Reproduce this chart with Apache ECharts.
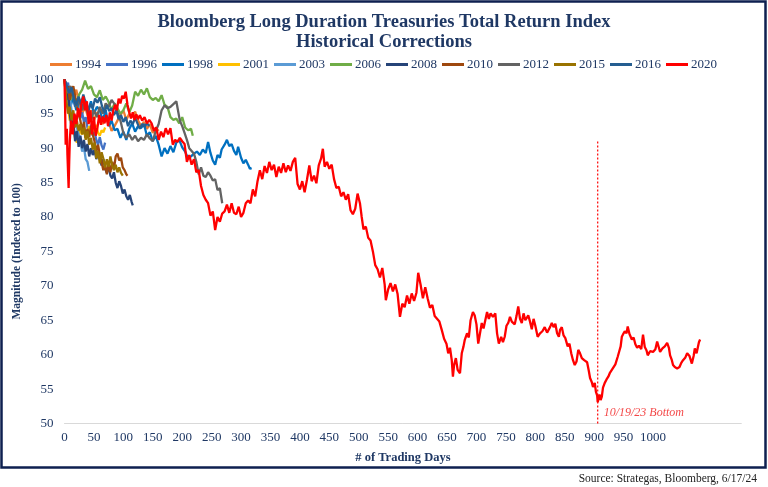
<!DOCTYPE html>
<html><head><meta charset="utf-8">
<script src="https://cdn.jsdelivr.net/npm/echarts@6/dist/echarts.min.js"></script>
<style>html,body{margin:0;padding:0;background:#fff}#c{width:768px;height:487px}</style>
</head><body><div id="c"></div>
<script>
const seriesNames = ['1994','1996','1998','2001','2003','2006','2008','2010','2012','2015','2016','2020'];
const seriesColors = ['#ED7D31','#4472C4','#0070C0','#FFC000','#5B9BD5','#70AD47','#264478','#9E480E','#636363','#997300','#255E91','#FF0000'];
const xTickMaxLabel = 1000;

const s1994 = [[0,100],[5,98.5],[10,99],[15,97],[20,98.5],[25,96.5],[30,95],[35,96],[40,94.5],[45,95.5],[50,94],[55,95.2],[60,94.5],[65,93.5],[70,94.8],[75,93.8],[80,92.5],[85,93.2],[90,94],[95,94.8],[100,95.5],[105,94.1],[110,95],[115,94.5],[120,95.3],[125,94],[130,93.2],[135,93.8],[140,92.8],[145,93.5],[150,92.2],[155,93],[160,92.5]];
const s1996 = [[0,100],[3,99],[6,99.5],[9,97.5],[12,98.8],[15,97],[18,96],[21,97.2],[24,95.5],[27,94.3],[30,95.2],[33,93.8],[36,94.5],[39,93],[42,92.4],[45,93.4],[48,91.8],[51,92.5],[54,91.2],[57,90.5],[60,91.6],[63,90.4],[66,89.8],[69,90.8]];
const s1998 = [[0,100],[5,98],[10,96],[15,97.5],[20,95.5],[25,97],[30,96],[35,97],[40,95.5],[45,96.8],[50,95],[55,96],[60,95.5],[65,94],[70,95.5],[75,93.2],[80,94],[85,92.6],[90,92.8],[95,91.5],[100,92.4],[105,91.2],[110,92.8],[115,93.6],[120,92.4],[125,93.2],[130,92.9],[135,93.5],[140,91.8],[145,92.3],[150,91],[155,91.8],[160,90.5],[165,88.8],[170,90],[175,89.2],[180,90.3],[185,89.4],[190,90.8],[195,91.2],[200,90.1],[205,89.5],[210,88.5],[215,88.8],[220,89.2],[225,89.5],[230,89],[235,89.8],[240,89.3],[244,90.9],[248,89.3],[252,88.2],[256,87.6],[260,89],[264,88.6],[267,89.8],[272,90.5],[276,91.2],[280,90.3],[284,90.6],[288,89.6],[292,89],[295,90.2],[300,88.6],[304,87.8],[308,88.3],[312,87.6],[315,87],[318,87.1]];
const s2001 = [[0,100],[3,97],[6,96],[9,94],[12,95.5],[15,93],[18,91.5],[21,90.8],[24,91.5],[27,93],[30,92],[33,92.8],[36,91.5],[39,92.5],[42,93.2],[45,92],[48,93],[51,92.4],[54,93.4],[57,92.2],[60,91.8],[63,92.6],[66,92.3],[69,93]];
const s2003 = [[0,100],[3,98],[6,96.5],[9,97.5],[12,95.5],[15,94],[18,94.8],[21,93],[24,92],[27,91],[30,89.5],[33,90.2],[36,88.4],[39,88],[42,86.7]];
const s2006 = [[0,100],[5,98.5],[10,97],[15,98],[20,96.5],[25,97.8],[30,98.5],[35,99.8],[40,98.6],[45,99],[50,97.8],[55,97.4],[60,98.4],[65,97],[70,97.5],[75,96.7],[80,95.5],[85,96.5],[90,95.8],[95,95],[100,95.5],[105,96.5],[110,95.2],[115,96.2],[120,98.2],[125,97.6],[130,98.5],[135,97.8],[140,98.7],[145,97.4],[150,97],[155,97.3],[160,96.8],[165,97.7],[170,96.3],[175,96],[180,94.5],[185,94.1],[190,94.3],[195,93.6],[200,94.5],[205,93],[210,92.6],[215,92.8],[218,91.8]];
const s2008 = [[0,100],[3,97],[6,98.5],[9,95],[12,93],[15,94],[18,91],[21,92.5],[24,90.2],[27,91.8],[30,90],[33,91.2],[36,89.5],[39,90.6],[42,88.8],[45,90],[48,89],[51,89.8],[54,88.4],[57,89.5],[60,88.5],[63,87.5],[66,88.4],[69,87],[72,86.4],[75,87.5],[78,86],[81,85.6],[84,86.5],[87,85],[90,84.2],[93,85.2],[96,84.5],[99,83.4],[102,84],[105,83],[108,82.5],[111,83.2],[114,82.2],[116,81.7]];
const s2010 = [[0,100],[3,98],[6,99],[9,97],[12,98.2],[15,99],[18,97.5],[21,96],[24,95],[27,94],[30,92.5],[33,93.8],[36,91.5],[39,92.8],[42,91.6],[45,93.2],[48,92],[51,91],[54,89.5],[57,90.5],[60,89],[63,88],[66,86.8],[69,87.5],[72,86.2],[75,87.8],[78,86.5],[81,88],[84,87],[87,88.8],[90,89.2],[93,88.2],[96,88.6],[99,87.2],[102,86.8],[105,86.2],[107,86]];
const s2012 = [[0,100],[5,98],[10,99],[15,97.5],[20,96],[25,97],[30,95.5],[35,96.5],[40,95],[45,94],[50,95.5],[55,94.5],[60,96],[65,95],[70,96.5],[75,96],[80,97],[85,96.4],[90,95.2],[95,94],[100,92.2],[105,91.5],[110,92],[115,91.2],[120,91.8],[125,91],[130,91.5],[135,91.2],[140,92],[145,91.4],[150,91],[155,92.5],[160,93.5],[165,95.5],[170,96.2],[175,95.8],[180,96],[185,96.4],[190,96.8],[193,97],[196,94],[200,93.2],[204,92.2],[208,91.2],[212,90],[216,89.6],[220,89.2],[224,88],[228,86.2],[232,87.2],[236,86],[240,85.8],[244,86.5],[248,86],[252,85.3],[256,85.5],[260,83.9],[264,84.2],[268,82]];
const s2015 = [[0,100],[3,97],[6,95],[9,96],[12,94],[15,95.5],[18,93],[21,94],[24,92.5],[27,93.5],[30,92],[33,93],[36,91.2],[39,92.5],[42,90.5],[45,91.5],[48,89.8],[51,90.8],[54,88.5],[57,89.6],[60,87.8],[63,89.4],[66,88.5],[69,87.2],[72,88.4],[75,87.3],[78,88.8],[81,87.5],[84,86.8],[87,87.6],[90,86.5],[93,87.2],[96,86.4],[99,86]];
const s2016 = [[0,100],[4,99],[8,98],[12,98.8],[16,97.2],[20,96.2],[24,97.5],[28,96.4],[32,97.8],[36,96.5],[40,95.2],[44,96.4],[48,95.8],[52,97.2],[56,96.6],[60,97.4],[64,96],[68,95.2],[72,96.2],[76,95.4],[80,95.8],[84,94.8],[88,95.5],[92,94.2],[96,94.8],[100,93.8],[104,94.5],[108,93.2],[112,94],[116,93.5],[120,94.4],[124,93.6],[128,92.8],[132,93.5],[136,93.1],[140,93.6],[144,93.2]];
const s2020 = [[0,100],[1,96],[2,90.5],[4,92.8],[5,89],[7,84.2],[8,88],[9,91],[11,94],[14,92],[17,95],[20,93.5],[23,95.8],[26,94.5],[29,96.5],[32,97.5],[35,95.5],[38,96.8],[41,93.5],[44,95.5],[47,92],[50,94.5],[53,91.8],[56,93],[59,94.8],[62,93.4],[65,94.6],[68,93.6],[71,94.8],[74,93.2],[77,95.2],[80,94],[83,95.5],[86,96.3],[89,95.5],[92,97.2],[95,96.5],[98,97.6],[101,97.2],[104,98.2],[107,96.3],[110,95.2],[113,94.3],[116,95.2],[119,94.1],[122,94.9],[125,94.2],[128,94.8],[132,94],[136,94.5],[140,93.6],[144,94.1],[148,93.6],[152,92.5],[156,93],[160,91.2],[164,92.4],[168,91.6],[172,92.9],[176,92],[180,92.9],[184,90.5],[188,91.2],[192,90.9],[196,91.5],[200,91],[204,90.6],[208,88],[212,89],[216,87.6],[220,88.4],[224,86.5],[228,86.8],[232,84.5],[236,83.2],[240,82.5],[244,82],[248,80.2],[252,80.8],[256,78.1],[260,80],[264,79.3],[268,80.5],[272,80.8],[276,81.8],[280,80.6],[284,82],[288,80.6],[292,80.4],[296,81.5],[300,80],[304,80.6],[308,82],[312,82.4],[316,82],[320,84],[324,83],[328,85.2],[332,86.8],[336,85.5],[340,87.4],[344,86.4],[348,88],[352,86.8],[356,87.6],[360,85.8],[364,87.3],[368,86.4],[372,87.8],[376,86.5],[380,87.5],[384,86.7],[388,88],[392,88.6],[396,84.8],[400,84],[404,85.2],[408,83.6],[412,85.4],[416,87.5],[420,85.2],[424,86],[428,84.9],[432,87.5],[436,88.5],[439,89.9],[442,87.3],[446,88],[450,87],[454,87.6],[458,85.5],[462,84.2],[466,84.4],[470,83],[474,83.6],[478,82.5],[482,83.3],[486,81],[490,80.4],[494,81.2],[498,83.4],[502,82],[505,80],[508,78.2],[512,78.6],[516,77],[520,76.6],[524,75],[528,73],[532,72.4],[536,71.2],[540,72.6],[544,70.2],[546,67.9],[550,69.5],[554,70.4],[558,69.2],[562,70.2],[566,68.8],[570,65.5],[574,67.4],[578,66.9],[582,68.6],[586,67.4],[590,68.9],[594,67.8],[598,69],[601,71.9],[605,70.2],[609,68.2],[613,69.8],[617,68.2],[621,66.8],[625,67.2],[629,65.6],[633,65.2],[637,64.8],[641,63.6],[645,62.3],[649,61.6],[652,60.2],[655,61],[658,59.2],[660,56.8],[662,58.5],[665,59.5],[668,57.8],[672,57.3],[675,60.2],[678,61.2],[680,62.1],[684,63.1],[687,62.5],[690,65],[694,66.2],[697,65.7],[700,64.4],[703,61.6],[706,63.1],[709,64.6],[712,63.8],[715,65],[718,66.2],[721,65.2],[724,66],[728,65.5],[732,66],[735,63.1],[738,61.6],[742,62.6],[745,61.8],[748,62.6],[751,64.2],[754,64.6],[757,65.5],[760,64.8],[765,64.4],[768,65.6],[771,67],[774,65.2],[777,64.6],[780,66],[783,65],[788,65.7],[791,64.8],[794,63.7],[797,65.2],[800,64.2],[804,62.6],[808,63.1],[812,63.4],[816,64],[820,63.2],[825,64],[828,64.6],[831,64],[834,64.5],[837,63.1],[840,62.6],[842,63.6],[845,64],[848,62.8],[851,62.4],[855,61.2],[858,61.6],[861,60.2],[864,59.2],[867,58.5],[870,59],[873,60.7],[876,60.2],[879,59.5],[883,59.2],[888,58.9],[891,57.6],[893,56.6],[896,56],[898,55.3],[901,55.9],[903,54.6],[905,54.1],[906,53.1],[909,54.2],[911,53.4],[913,53.9],[915,55.2],[918,55.9],[921,56.4],[924,56.8],[927,57.4],[930,57.8],[933,58.2],[936,58.6],[940,59.7],[943,60.6],[945,61.2],[947,62.6],[950,63.1],[952,63.4],[955,63.1],[957,64.1],[960,63],[964,62.2],[967,62.5],[970,61.5],[973,61],[976,61.3],[980,60.8],[983,62.9],[986,61.1],[989,60.6],[991,59.9],[995,60.5],[1000,60.4],[1004,60.8],[1007,61.9],[1010,61],[1012,60.4],[1016,60.9],[1020,61.2],[1024,61.7],[1027,61],[1029,59.9],[1032,59.2],[1034,58.5],[1037,58.2],[1041,58],[1045,58.2],[1048,58.8],[1051,59.2],[1055,59.6],[1058,60.2],[1062,59.8],[1066,58.7],[1069,59.8],[1071,60.9],[1074,60.2],[1076,61],[1078,61.8],[1080,62.2]];

const bottomDay = 906;
const bottomLine = [[bottomDay,50],[bottomDay,91]];
const bottomLabelPoint = [[bottomDay,51.5]];
const bottomLabelText = '10/19/23 Bottom';

const allData = [s1994,s1996,s1998,s2001,s2003,s2006,s2008,s2010,s2012,s2015,s2016,s2020];
const navy = '#1F3864';
const serif = "'Liberation Serif', 'DejaVu Serif', serif";

const chart = echarts.init(document.getElementById('c'), null, {renderer:'canvas'});
const series = seriesNames.map((n,i)=>({
  name:n, type:'line', data:allData[i], showSymbol:false, symbol:'none',
  lineStyle:{width:2.3, color:seriesColors[i]}, itemStyle:{color:seriesColors[i]},
  animation:false, z:2
}));
series.push({type:'line', data:bottomLine, showSymbol:false, symbol:'none', silent:true,
  lineStyle:{width:1.2, color:'#FF0000', type:[2,2]}, animation:false, z:1});
series.push({type:'scatter', data:bottomLabelPoint, symbolSize:0, silent:true, animation:false,
  label:{show:true, position:'right', distance:6, formatter:bottomLabelText,
    fontFamily:serif, fontStyle:'italic', fontSize:12, color:'#F01818'}});

chart.setOption({
  backgroundColor:'#fff',
  animation:false,
  title:{text:'Bloomberg Long Duration Treasuries Total Return Index\nHistorical Corrections',
    left:'center', top:7,
    textStyle:{fontFamily:serif, fontWeight:'bold', fontSize:18.5, lineHeight:20, color:navy}},
  legend:{data:seriesNames, left:45, top:53, icon:'rect', itemWidth:22, itemHeight:3, itemGap:5,
    textStyle:{fontFamily:serif, fontSize:13, color:navy, padding:[0,0,0,-2]}},
  grid:{left:64.5, right:26.7, top:79.3, bottom:63.5, containLabel:false},
  xAxis:{type:'value', min:0, max:1150, interval:50,
    name:'# of Trading Days', nameLocation:'middle', nameGap:28,
    nameTextStyle:{fontFamily:serif, fontWeight:'bold', fontSize:12.5, color:navy},
    axisLine:{show:true, lineStyle:{color:'#D9D9D9', width:1}}, axisTick:{show:false},
    splitLine:{show:false},
    axisLabel:{fontFamily:serif, fontSize:13, color:navy, margin:8,
      formatter:v=> v<=xTickMaxLabel ? String(v) : ''}},
  yAxis:{type:'value', min:50, max:100, interval:5,
    name:'Magnitude (Indexed to 100)', nameLocation:'middle', nameGap:40,
    nameTextStyle:{fontFamily:serif, fontWeight:'bold', fontSize:11.5, color:navy},
    axisLine:{show:false}, axisTick:{show:false}, splitLine:{show:false},
    axisLabel:{fontFamily:serif, fontSize:13, color:navy, margin:11}},
  graphic:[
    {type:'rect', shape:{x:1.5, y:1.5, width:764, height:466}, style:{fill:'none', stroke:'#0E2050', lineWidth:2.5}, silent:true, z:-1},
    {type:'text', right:11, top:473, style:{text:'Source: Strategas, Bloomberg, 6/17/24', fontFamily:serif, fontSize:11.5, fill:'#222'}}
  ],
  series:series
});
</script></body></html>
